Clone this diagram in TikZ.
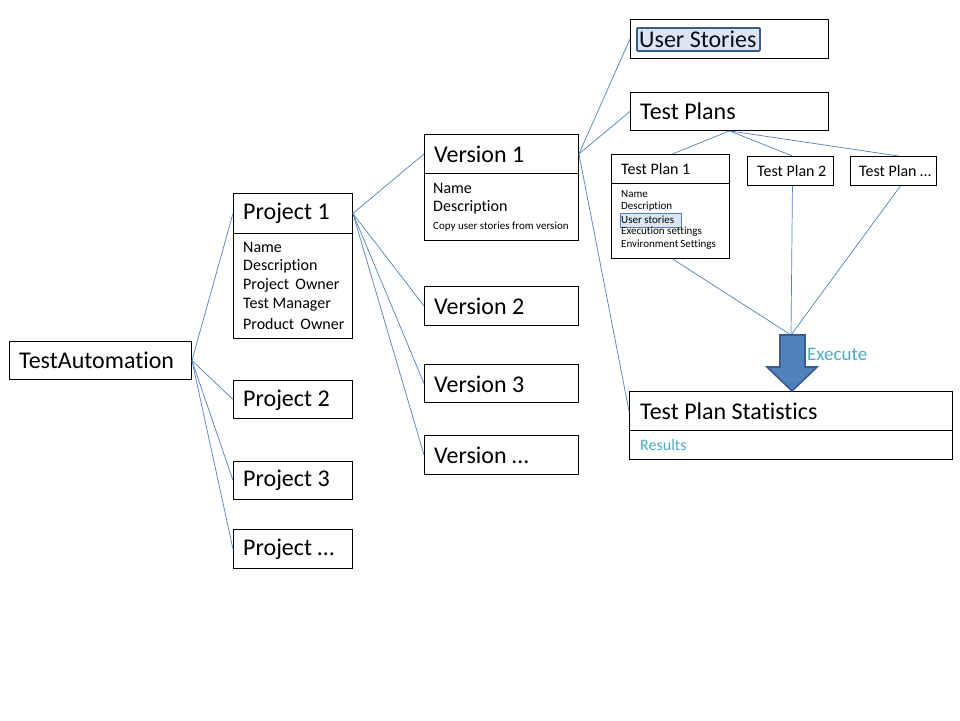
\documentclass[tikz,border=0pt]{standalone}
\usepackage{fontspec}
\setmainfont{Carlito}[Ligatures=NoCommon]
\definecolor{linkblue}{HTML}{4F81BD}
\definecolor{darkblue}{HTML}{385D8A}
\definecolor{lightblue}{HTML}{DCE6F2}
\definecolor{tealtext}{HTML}{4BACC6}
\begin{document}
\begin{tikzpicture}[x=1pt,y=-1pt,
  box/.style={draw=black,line width=0.9pt,fill=white,anchor=north west,inner sep=0pt},
  conn/.style={draw=linkblue,line width=0.7pt},
  big/.style={anchor=west,inner sep=0pt,font=\fontsize{24}{26}\selectfont},
  mid/.style={anchor=west,inner sep=0pt,font=\fontsize{16}{18}\selectfont},
  small/.style={anchor=west,inner sep=0pt,font=\fontsize{11}{12}\selectfont},
  tp/.style={anchor=west,inner sep=0pt,font=\fontsize{16}{18}\selectfont}]
\useasboundingbox (0,0) rectangle (960,720);
\fill[white] (0,0) rectangle (960,720);

\coordinate (exec) at (791,335);

% boxes
\node[box,minimum width=182pt,minimum height=38pt] (ta) at (9,341) {};
\node[box,minimum width=119pt,minimum height=145pt] (p1) at (233,193) {};
\node[box,minimum width=119pt,minimum height=40pt] (p1h) at (233,193) {};
\node[box,minimum width=119pt,minimum height=38pt] (p2) at (233,380) {};
\node[box,minimum width=119pt,minimum height=38pt] (p3) at (233,461) {};
\node[box,minimum width=119pt,minimum height=39pt] (p4) at (233,529) {};
\node[box,minimum width=154pt,minimum height=106pt] (v1) at (424,134) {};
\node[box,minimum width=154pt,minimum height=39pt] (v1h) at (424,134) {};
\node[box,minimum width=154pt,minimum height=39pt] (v2) at (424,286) {};
\node[box,minimum width=154pt,minimum height=38pt] (v3) at (424,364) {};
\node[box,minimum width=154pt,minimum height=39pt] (v4) at (424,435) {};
\node[box,minimum width=198pt,minimum height=39pt] (us) at (630,19) {};
\node[box,minimum width=198pt,minimum height=38pt] (tps) at (630,92) {};
\node[box,minimum width=118pt,minimum height=104pt] (tp1) at (611,154) {};
\node[box,minimum width=118pt,minimum height=29pt] (tp1h) at (611,154) {};
\node[box,minimum width=86pt,minimum height=29pt] (tp2) at (747,156) {};
\node[box,minimum width=86pt,minimum height=29pt] (tp3) at (850,156) {};
\node[box,minimum width=323pt,minimum height=68pt] (st) at (629,391) {};
\node[box,minimum width=323pt,minimum height=39pt] (sth) at (629,391) {};

% connectors
\draw[conn] (ta.east) -- (p1h.west);
\draw[conn] (ta.east) -- (p2.west);
\draw[conn] (ta.east) -- (p3.west);
\draw[conn] (ta.east) -- (p4.west);
\draw[conn] (p1h.east) -- (v1h.west);
\draw[conn] (p1h.east) -- (v2.west);
\draw[conn] (p1h.east) -- (v3.west);
\draw[conn] (p1h.east) -- (v4.west);
\draw[conn] (v1h.east) -- (us.west);
\draw[conn] (v1h.east) -- (tps.west);
\draw[conn] (v1h.east) -- (sth.west);
\draw[conn] (tps.south) -- ([xshift=2pt]tp1h.north);
\draw[conn] (tps.south) -- ([xshift=2pt]tp2.north);
\draw[conn] (tps.south) -- ([xshift=5pt]tp3.north);
\draw[conn] ([xshift=2pt]tp1.south) -- (exec);
\draw[conn] ([xshift=2pt]tp2.south) -- (exec);
\draw[conn] ([xshift=7pt]tp3.south) -- (exec);

% block arrow
\draw[fill=linkblue,draw=darkblue,line width=1.6pt,line join=miter]
  (780,335) -- (805,335) -- (805,367) -- (817,367) -- (792,391) -- (767,367) -- (780,367) -- cycle;
\node[anchor=west,inner sep=0pt,text=tealtext,font=\fontsize{19}{21}\selectfont] (exl) at (807,354) {Execute};

% texts
\node[big] (tat) at (19,360) {TestAutomation};
\node[big] (p1t) at (243,213) {Project 1};
\node[mid] (p1a) at (243,247) {Name};
\node[mid] (p1b) at (243,266) {Description};
\node[mid] (p1c) at (243,285) {Project\ \,Owner};
\node[mid] (p1d) at (243,305) {Test Manager};
\node[mid] (p1e) at (243,324) {Product\ \,Owner};
\node[big] (p2t) at (243,400) {Project 2};
\node[big] (p3t) at (243,480) {Project 3};
\node[big] (p4t) at (243,549) {Project …};
\node[big] (v1t) at (434,154) {Version 1};
\node[mid] (v1a) at (433,188) {Name};
\node[mid] (v1b) at (433,207) {Description};
\node[small] (v1c) at (433,227) {Copy user stories from version};
\node[big] (v2t) at (434,306) {Version 2};
\node[big] (v3t) at (434,384) {Version 3};
\node[big] (v4t) at (434,455) {Version …};
\node[draw=darkblue,line width=1.8pt,fill=lightblue,rounded corners=1pt,anchor=north west,minimum width=123pt,minimum height=23pt,inner sep=0pt] (ushl) at (636,27) {};
\node[big,text=black!85!darkblue] (ust) at (639,39) {User Stories};
\node[big] (tpst) at (640,111) {Test Plans};
\node[tp] (tp1t) at (621,169) {Test Plan 1};
\node[small] (tp1a) at (621,194) {Name};
\node[small] (tp1b) at (621,207) {Description};
\node[draw=linkblue,line width=0.6pt,fill=lightblue,anchor=north west,minimum width=61pt,minimum height=14pt,inner sep=0pt] (tphl) at (620,213) {};
\node[small] (tp1c) at (621,220) {User stories};
\node[small] (tp1d) at (621,232) {Execution settings};
\node[small] (tp1e) at (621,245) {Environment\,Settings};
\node[tp] (tp2t) at (757,171) {Test Plan 2};
\node[tp] (tp3t) at (859,171) {Test Plan …};
\node[big] (stt) at (640,411) {Test Plan Statistics};
\node[tp,text=tealtext] (str) at (640,445) {Results};
\end{tikzpicture}
\end{document}
